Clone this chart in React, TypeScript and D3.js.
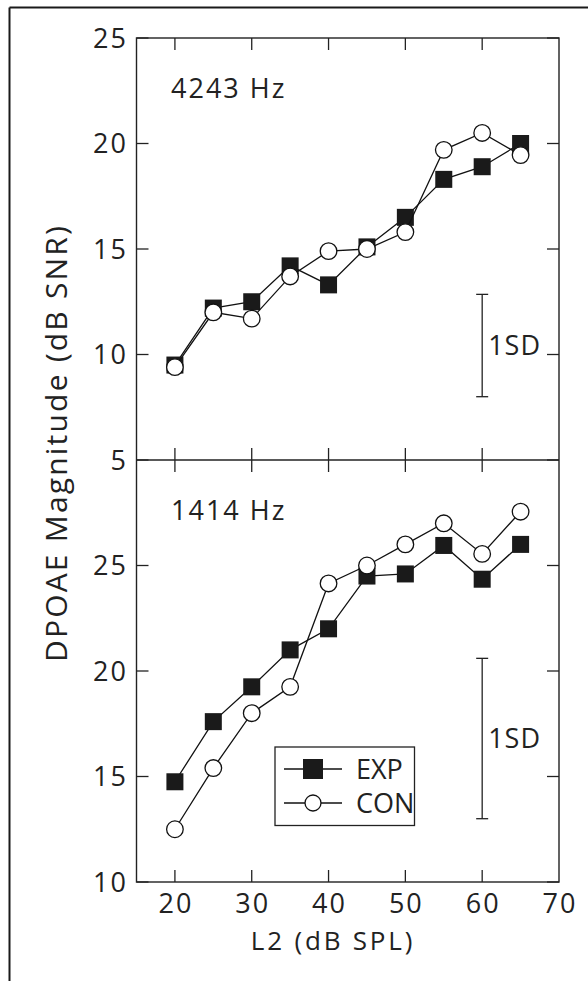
import React from "react";
import * as d3 from "d3";

const levels = [20, 25, 30, 35, 40, 45, 50, 55, 60, 65];
const expHigh = [9.5, 12.2, 12.5, 14.2, 13.3, 15.1, 16.5, 18.3, 18.9, 20.0];
const conHigh = [9.4, 12.0, 11.7, 13.7, 14.9, 15.0, 15.8, 19.7, 20.5, 19.45];
const expLow = [14.75, 17.6, 19.25, 21.0, 22.0, 24.5, 24.6, 25.95, 24.35, 26.0];
const conLow = [12.5, 15.4, 18.0, 19.25, 24.15, 25.0, 26.0, 27.0, 25.55, 27.55];
const xTicks = [20, 30, 40, 50, 60, 70];
const yTicksHigh = [5, 10, 15, 20, 25];
const yTicksLow = [10, 15, 20, 25];
const sdHigh = [8.0, 12.85];
const sdLow = [13.0, 20.6];
const panelLabels = ["4243 Hz", "1414 Hz"];
const seriesNames = ["EXP", "CON"];

const FONT = "'Open Sans', sans-serif";
const INK = "#222";

export default function App() {
  const left = 136.5, right = 559, top = 38, mid = 460, bottom = 882;
  const x = d3.scaleLinear().domain([15, 70]).range([left, right]);
  const yH = d3.scaleLinear().domain([5, 25]).range([mid, top]);
  const yL = d3.scaleLinear().domain([10, 30]).range([bottom, mid]);
  const tl = 12;
  const fs = 27;
  const ls = 2;

  const panel = (
    y: d3.ScaleLinear<number, number>,
    exp: number[],
    con: number[],
    yTicks: number[],
    sd: number[],
    label: string,
    key: string
  ) => {
    const line = d3
      .line<number>()
      .x((_, i) => x(levels[i]))
      .y((d) => y(d));
    const [y0, y1] = y.range();
    return (
      <g key={key}>
        {yTicks.map((t) => (
          <g key={"yt" + t}>
            <line x1={left} x2={left + tl} y1={y(t)} y2={y(t)} stroke={INK} strokeWidth={1.3} />
            <line x1={right} x2={right - tl} y1={y(t)} y2={y(t)} stroke={INK} strokeWidth={1.3} />
            <text
              x={128}
              y={y(t)}
              dy="0.36em"
              textAnchor="end"
              fontSize={fs}
              fontFamily={FONT}
              fill={INK}
              letterSpacing={ls}
            >
              {t}
            </text>
          </g>
        ))}
        {xTicks.slice(0, 5).map((t) => (
          <g key={"xt" + t}>
            <line x1={x(t)} x2={x(t)} y1={y0} y2={y0 - tl} stroke={INK} strokeWidth={1.3} />
            <line x1={x(t)} x2={x(t)} y1={y1} y2={y1 + tl} stroke={INK} strokeWidth={1.3} />
          </g>
        ))}
        <text x={171} y={y1 + 60} fontSize={fs} fontFamily={FONT} fill={INK} letterSpacing={ls}>
          {label}
        </text>
        <g>
          <line x1={x(60)} x2={x(60)} y1={y(sd[0])} y2={y(sd[1])} stroke={INK} strokeWidth={1.3} />
          <line x1={x(60) - 6} x2={x(60) + 6} y1={y(sd[0])} y2={y(sd[0])} stroke={INK} strokeWidth={1.3} />
          <line x1={x(60) - 6} x2={x(60) + 6} y1={y(sd[1])} y2={y(sd[1])} stroke={INK} strokeWidth={1.3} />
          <text
            x={x(60) + 6}
            y={(y(sd[0]) + y(sd[1])) / 2}
            dy="0.36em"
            fontSize={fs}
            fontFamily={FONT}
            fill={INK}
            letterSpacing={1}
          >
            1SD
          </text>
        </g>
        <path d={line(exp) || ""} fill="none" stroke="#111" strokeWidth={1.3} />
        {exp.map((v, i) => (
          <rect key={"e" + i} x={x(levels[i]) - 8.5} y={y(v) - 8.5} width={17} height={17} fill="#1a1a1a" />
        ))}
        <path d={line(con) || ""} fill="none" stroke="#111" strokeWidth={1.3} />
        {con.map((v, i) => (
          <circle key={"c" + i} cx={x(levels[i])} cy={y(v)} r={8.3} fill="#fff" stroke="#111" strokeWidth={1.3} />
        ))}
      </g>
    );
  };

  const legendX = 275, legendY = 747, legendW = 139.5, legendH = 78.5;
  const rowY = [769, 803];

  return (
    <svg
      width={588}
      height={981}
      style={{ position: "absolute", left: 0, top: 0, display: "block", background: "#fff" }}
    >
      <rect x={0} y={0} width={588} height={981} fill="#fff" />
      <line x1={9.5} x2={588} y1={7.5} y2={7.5} stroke="#1a1a1a" strokeWidth={2} />
      <line x1={9.5} x2={9.5} y1={7.5} y2={981} stroke="#1a1a1a" strokeWidth={2} />

      {panel(yH, expHigh, conHigh, yTicksHigh, sdHigh, panelLabels[0], "hi")}
      {panel(yL, expLow, conLow, yTicksLow, sdLow, panelLabels[1], "lo")}

      <rect x={left} y={top} width={right - left} height={bottom - top} fill="none" stroke={INK} strokeWidth={1.4} />
      <line x1={left} x2={right} y1={mid} y2={mid} stroke={INK} strokeWidth={1.6} />

      {xTicks.map((t) => (
        <text
          key={"xl" + t}
          x={x(t) + ls / 2}
          y={913}
          textAnchor="middle"
          fontSize={fs}
          fontFamily={FONT}
          fill={INK}
          letterSpacing={ls}
        >
          {t}
        </text>
      ))}
      <text x={333} y={950} textAnchor="middle" fontSize={26} fontFamily={FONT} fill={INK} letterSpacing={2.8}>
        L2 (dB SPL)
      </text>
      <text
        transform="translate(67,443) rotate(-90)"
        textAnchor="middle"
        fontSize={30}
        fontFamily={FONT}
        fill={INK}
        letterSpacing={2.2}
      >
        DPOAE Magnitude (dB SNR)
      </text>

      <rect x={legendX} y={legendY} width={legendW} height={legendH} fill="#fff" stroke={INK} strokeWidth={1.3} />
      {seriesNames.map((s, i) => (
        <g key={s}>
          <line x1={284} x2={342} y1={rowY[i]} y2={rowY[i]} stroke="#111" strokeWidth={1.3} />
          {i === 0 ? (
            <rect x={313 - 10} y={rowY[i] - 10} width={20} height={20} fill="#1a1a1a" />
          ) : (
            <circle cx={313} cy={rowY[i]} r={8} fill="#fff" stroke="#111" strokeWidth={1.3} />
          )}
          <text x={356} y={rowY[i]} dy="0.36em" fontSize={fs} fontFamily={FONT} fill={INK} letterSpacing={0}>
            {s}
          </text>
        </g>
      ))}
    </svg>
  );
}
